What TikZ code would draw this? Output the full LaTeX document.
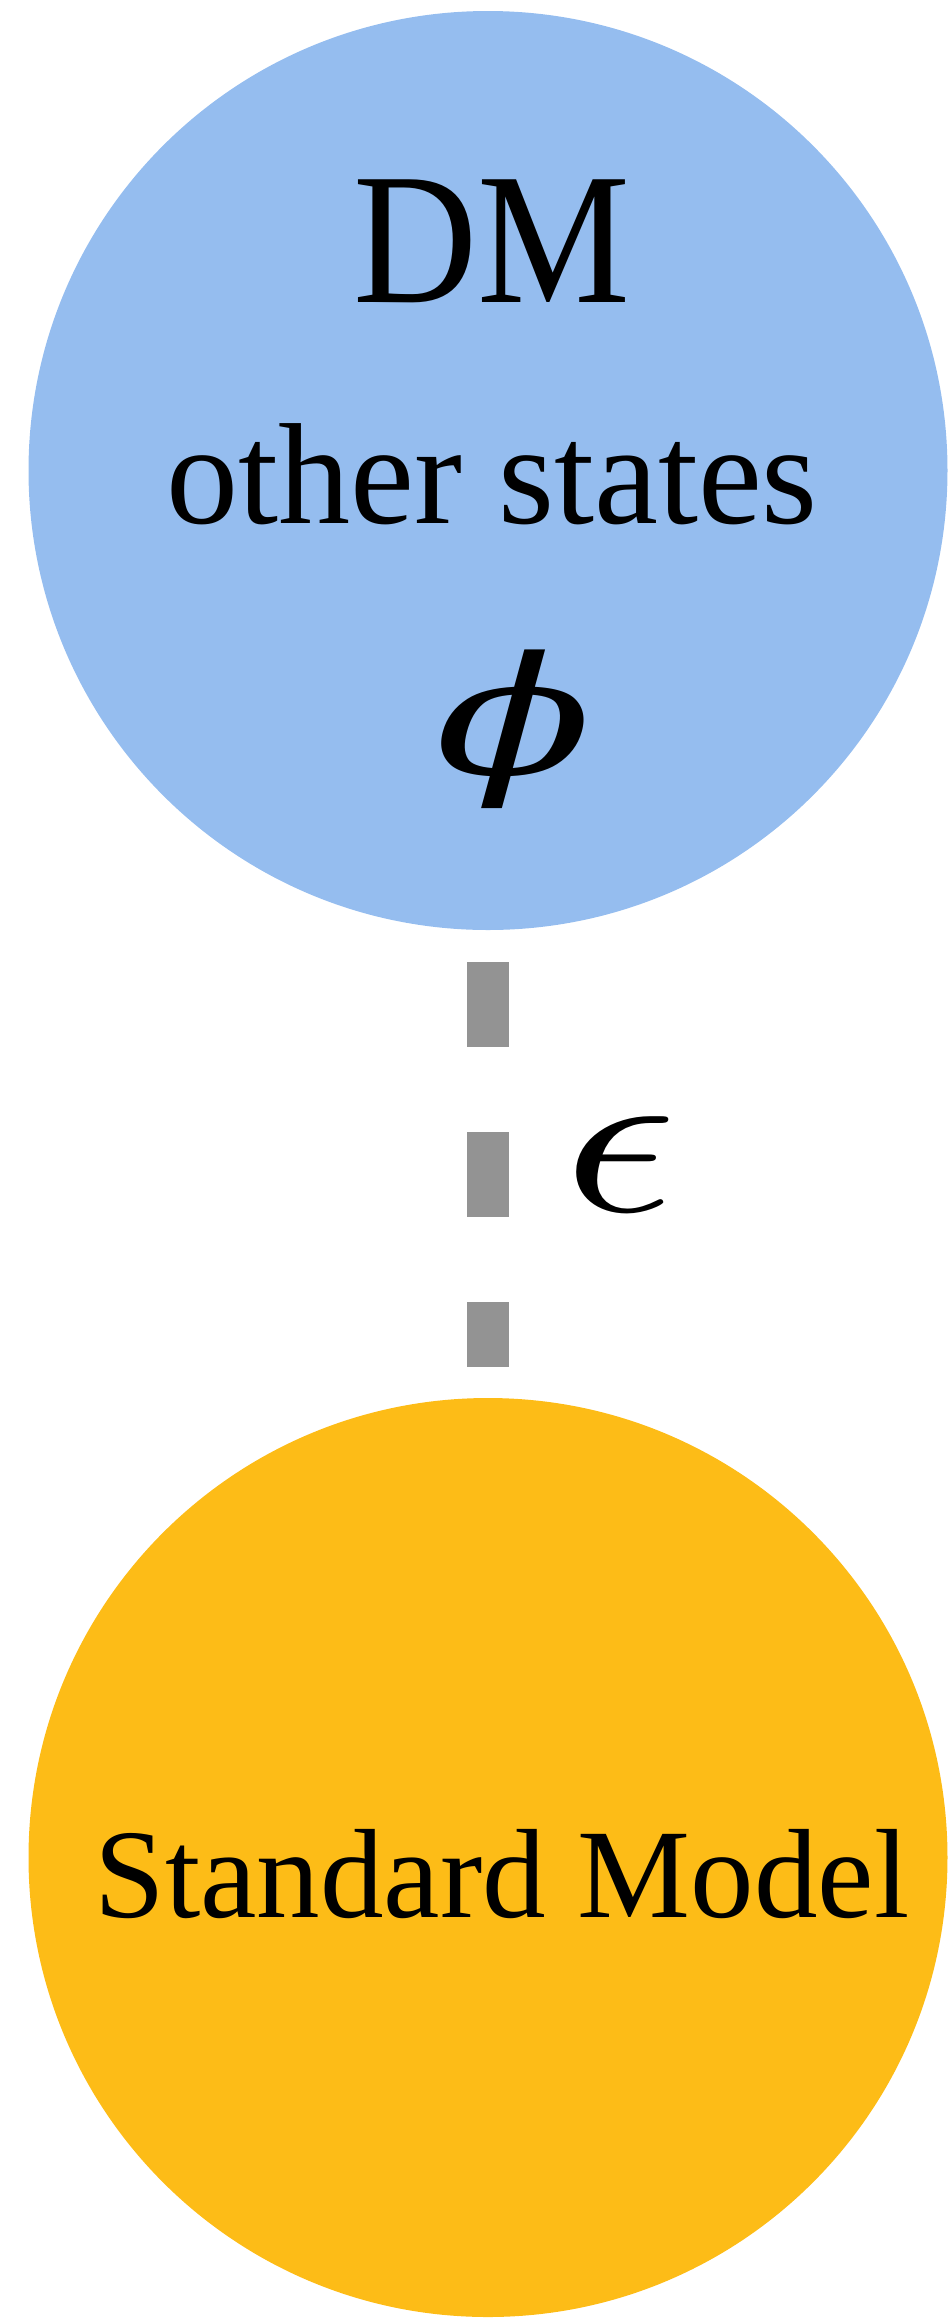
\documentclass[tikz,border=0pt]{standalone}
\usepackage{graphicx}
\usepackage{fontspec}
\setmainfont{Liberation Serif}
\newfontfamily\symbfont{DejaVu Serif}
\definecolor{dmblue}{RGB}{149,189,239}
\definecolor{smyellow}{RGB}{253,188,23}
\definecolor{linkgray}{RGB}{147,147,147}

\begin{document}
\begin{tikzpicture}[x=0.5pt,y=-0.5pt,
  blob/.style={circle, minimum size=459.5pt, inner sep=0pt, outer sep=0pt},
  link/.style={draw=linkgray, line width=21pt, dash pattern=on 42.5pt off 42.5pt,
    shorten <=16pt, shorten >=15.5pt}]
\useasboundingbox (0,0) rectangle (949,2319);

% dark sector
\node[blob, fill=dmblue] (dm) at (488,470.5) {};
\node[anchor=base, font=\fontsize{86}{86}\selectfont] (dmname) at (492,302) {\scalebox{1}[1.09]{DM}};
\node[anchor=base, font=\fontsize{72}{72}\selectfont] (others) at (492,523) {other states};
\node[inner sep=0pt, font=\fontsize{82}{82}\symbfont\itshape] (phi) at (514,729) {\scalebox{1.4}[1]{ϕ}};

% visible sector
\node[blob, fill=smyellow] (sm) at (488,1857.5) {};
\node[anchor=base, font=\fontsize{63.5}{64}\selectfont] (smname) at (502,1917) {Standard Model};

% portal coupling
\draw[link] (dm) -- (sm)
  node[midway, right=27pt, inner sep=0pt] (eps) {\scalebox{14}[11]{$\epsilon$}};
\end{tikzpicture}
\end{document}
